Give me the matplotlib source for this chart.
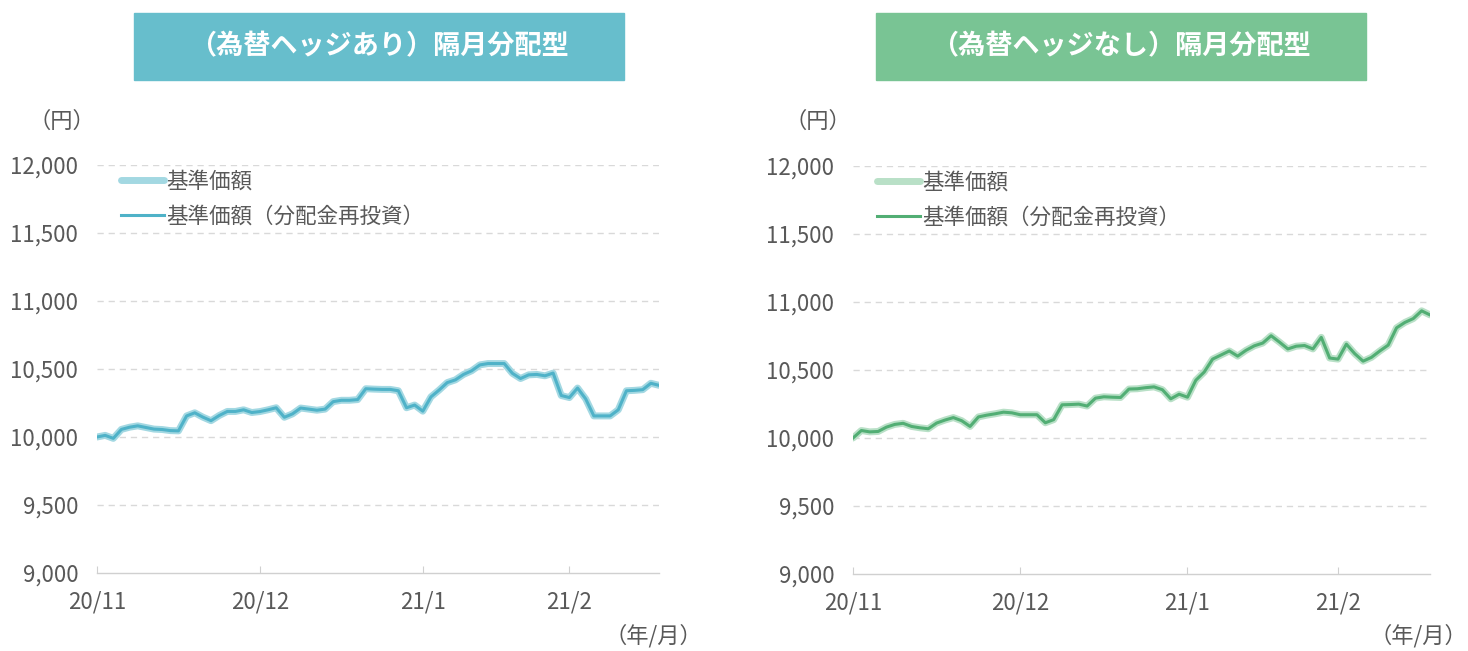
import matplotlib
matplotlib.use("Agg")
import matplotlib.pyplot as plt
from matplotlib.patches import Rectangle
from matplotlib.ticker import FuncFormatter, FixedLocator
from matplotlib.lines import Line2D

plt.rcParams['font.family'] = ['Noto Sans CJK JP', 'DejaVu Sans']

# ---- data ----
tick_labels = ["20/11", "20/12", "21/1", "21/2"]
tick_index = [0, 20, 40, 58]

hedged_nav = [10000, 10012, 9990, 10056, 10072, 10082, 10070, 10058, 10055, 10047,
              10045, 10155, 10178, 10146, 10120, 10158, 10188, 10188, 10200, 10180,
              10187, 10200, 10215, 10145, 10170, 10213, 10205, 10197, 10205, 10260,
              10270, 10270, 10275, 10355, 10352, 10350, 10350, 10340, 10215, 10235,
              10190, 10295, 10345, 10400, 10420, 10460, 10487, 10530, 10540, 10540,
              10540, 10468, 10430, 10457, 10460, 10450, 10470, 10305, 10290, 10360,
              10280, 10155, 10155, 10155, 10200, 10340, 10343, 10348, 10395, 10380]

unhedged_nav = [10000, 10055, 10045, 10048, 10080, 10100, 10108, 10085, 10075, 10068,
                10110, 10132, 10150, 10127, 10085, 10155, 10168, 10178, 10190, 10185,
                10171, 10171, 10171, 10112, 10135, 10244, 10246, 10249, 10235, 10293,
                10303, 10300, 10298, 10360, 10362, 10370, 10376, 10355, 10288, 10322,
                10300, 10425, 10485, 10580, 10610, 10640, 10602, 10645, 10678, 10698,
                10752, 10705, 10655, 10675, 10680, 10655, 10740, 10588, 10580, 10690,
                10620, 10565, 10593, 10640, 10683, 10810, 10850, 10878, 10935, 10905]

titles = ["（為替ヘッジあり）隔月分配型", "（為替ヘッジなし）隔月分配型"]
legend_labels = ["基準価額", "基準価額（分配金再投資）"]
yticks = [9000, 9500, 10000, 10500, 11000, 11500, 12000]

W, H = 1468, 651
fig = plt.figure(figsize=(W / 100, H / 100), dpi=100)

panels = [
    dict(data=hedged_nav, ax=(97, 659, 573, 165), box=(134, 624, 13, 80),
         boxc="#67BECC", light="#A3D8E2", dark="#4FB2C8", yen=(62, 121), ym=(702, 636)),
    dict(data=unhedged_nav, ax=(853, 1430, 574, 166), box=(876, 1366, 13, 80),
         boxc="#79C494", light="#B9E0C7", dark="#52AE74", yen=(818, 121), ym=(1467, 636)),
]

grey = "#595959"
for k, p in enumerate(panels):
    x0, x1, yb, yt = p["ax"]
    ax = fig.add_axes([x0 / W, 1 - yb / H, (x1 - x0) / W, (yb - yt) / H])
    xs = list(range(len(p["data"])))
    ax.plot(xs, p["data"], color=p["light"], lw=5.0, solid_capstyle='round',
            solid_joinstyle='round', zorder=3)
    ax.plot(xs, p["data"], color=p["dark"], lw=2.2, solid_joinstyle='round', zorder=4)
    ax.set_xlim(0, len(xs) - 1)
    ax.set_ylim(9000, 12000)
    ax.set_yticks(yticks)
    ax.yaxis.set_major_formatter(FuncFormatter(lambda v, _: f"{int(v):,}"))
    ax.xaxis.set_major_locator(FixedLocator(tick_index))
    ax.set_xticklabels(tick_labels)
    for s in ["top", "right", "left"]:
        ax.spines[s].set_visible(False)
    ax.spines["bottom"].set_color("#D0D0D0")
    ax.spines["bottom"].set_linewidth(1.0)
    ax.tick_params(axis='x', direction='in', length=5, color="#D0D0D0",
                   labelsize=16, labelcolor=grey, pad=12.5)
    ax.tick_params(axis='y', length=0, labelsize=16, labelcolor=grey, pad=13.5)
    for yv in yticks[1:]:
        ax.axhline(yv, color="#D9D9D9", lw=1.0, dashes=(4.5, 3.5), zorder=1)
    handles = [Line2D([], [], color=p["light"], lw=5.0, solid_capstyle='round'),
               Line2D([], [], color=p["dark"], lw=2.2)]
    w = x1 - x0
    ax.legend(handles, legend_labels, loc="upper left",
              bbox_to_anchor=(15.5 / w, 1.0 + 3 / (yb - yt)), frameon=False, fontsize=15.5,
              labelcolor=grey, handlelength=2.0, handletextpad=0.1,
              labelspacing=0.6, borderaxespad=0)

    bx0, bx1, by0, by1 = p["box"]
    fig.patches.append(Rectangle((bx0 / W, 1 - by1 / H), (bx1 - bx0) / W, (by1 - by0) / H,
                                 transform=fig.transFigure, color=p["boxc"], zorder=0))
    fig.text((bx0 + bx1) / 2 / W, 1 - (by0 + by1) / 2 / H, titles[k], color="white",
             fontsize=19.5, fontweight="bold", ha="center", va="center")
    fig.text(p["yen"][0] / W, 1 - p["yen"][1] / H, "（円）", color=grey, fontsize=16,
             ha="center", va="center")
    fig.text(p["ym"][0] / W, 1 - p["ym"][1] / H, "（年/月）", color=grey, fontsize=16,
             ha="right", va="center")

fig.savefig("out.png", dpi=100)
